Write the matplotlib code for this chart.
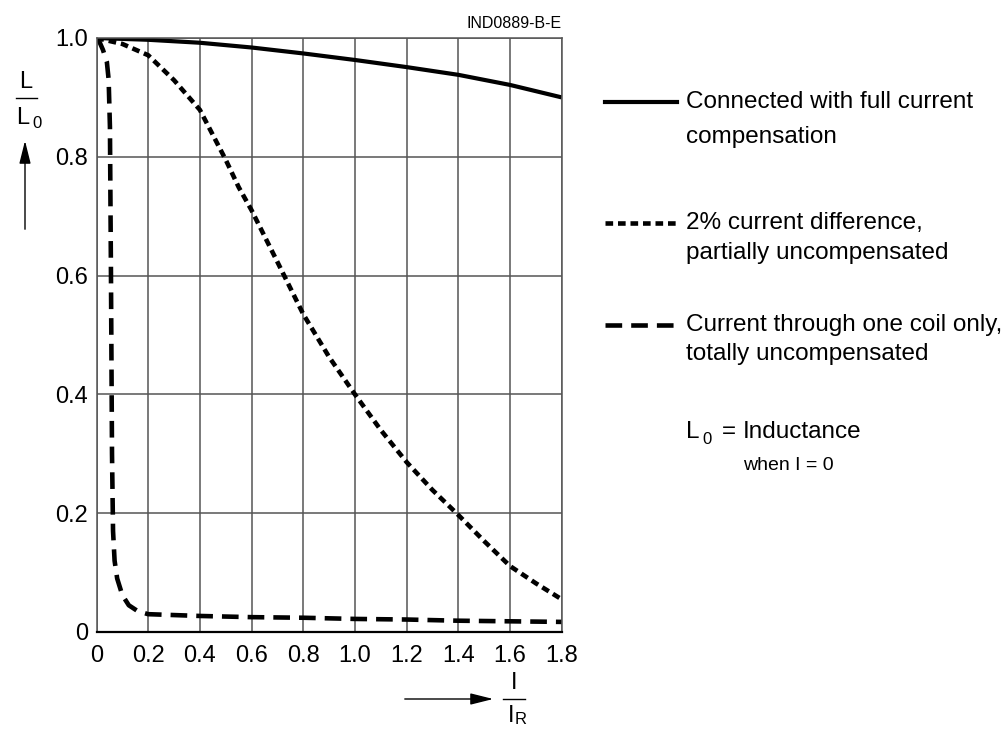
import matplotlib
matplotlib.use("Agg")
import matplotlib.pyplot as plt
from matplotlib.lines import Line2D

plt.rcParams['font.family'] = ['Liberation Sans', 'DejaVu Sans']
plt.rcParams['lines.scale_dashes'] = False

# Connected with full current compensation
x_full = [0, 0.2, 0.4, 0.6, 0.8, 1.0, 1.2, 1.4, 1.6, 1.8]
y_full = [1.0, 0.997, 0.992, 0.984, 0.974, 0.963, 0.951, 0.938, 0.921, 0.90]

# 2% current difference
x_diff = [0, 0.1, 0.2, 0.3, 0.4, 0.5, 0.55, 0.6, 0.7, 0.8, 0.9, 1.0, 1.1, 1.2, 1.3, 1.4, 1.5, 1.6, 1.7, 1.8]
y_diff = [1.0, 0.99, 0.971, 0.929, 0.879, 0.795, 0.749, 0.71, 0.623, 0.535, 0.463, 0.40, 0.34,
          0.286, 0.239, 0.197, 0.153, 0.111, 0.082, 0.055]

# Current through one coil only
x_one = [0, 0.01, 0.025, 0.04, 0.047, 0.052, 0.056, 0.06, 0.064, 0.07, 0.08, 0.1, 0.125, 0.16, 0.2,
         0.4, 0.6, 0.8, 1.0, 1.2, 1.4, 1.6, 1.8]
y_one = [1.0, 0.995, 0.98, 0.96, 0.93, 0.85, 0.6, 0.3, 0.17, 0.12, 0.09, 0.062, 0.045, 0.035, 0.030,
         0.027, 0.025, 0.024, 0.022, 0.021, 0.019, 0.018, 0.017]

x_ticks = [0, 0.2, 0.4, 0.6, 0.8, 1.0, 1.2, 1.4, 1.6, 1.8]
x_labels = ['0', '0.2', '0.4', '0.6', '0.8', '1.0', '1.2', '1.4', '1.6', '1.8']
y_ticks = [0, 0.2, 0.4, 0.6, 0.8, 1.0]
y_labels = ['0', '0.2', '0.4', '0.6', '0.8', '1.0']

W, H = 1008, 729


def fx(px):
    return px / W


def fy(py):
    return 1 - py / H


fig = plt.figure(figsize=(10.08, 7.29), dpi=100)
ax = fig.add_axes([fx(96.5), fy(632), (561.7 - 96.5) / W, (632 - 38) / H])

grid_col = '#555555'
dot_style = (5.5, 3.5)
dash_style = (12, 6.5)
ax.plot(x_full, y_full, color='black', lw=3, solid_capstyle='butt')
ax.plot(x_diff, y_diff, color='black', lw=3.3, dashes=dot_style)
ax.plot(x_one, y_one, color='black', lw=3.3, dashes=dash_style)

ax.set_xlim(0, 1.8)
ax.set_ylim(0, 1.0)
ax.set_xticks(x_ticks)
ax.set_xticklabels(x_labels)
ax.set_yticks(y_ticks)
ax.set_yticklabels(y_labels)
ax.grid(True, color=grid_col, lw=1.1)
ax.tick_params(length=0, labelsize=17)
ax.tick_params(axis='x', pad=9)
ax.tick_params(axis='y', pad=6)
for s in ax.spines.values():
    s.set_color(grid_col)
    s.set_linewidth(1.1)
ax.spines['bottom'].set_color('black')
ax.spines['bottom'].set_linewidth(1.6)
ax.set_axisbelow(True)

# code in the top right
fig.text(fx(562), fy(23), 'IND0889-B-E', fontsize=11.5, ha='right', va='center')

# y axis label: L / L0 with arrow
fig.text(fx(26), fy(82), 'L', fontsize=17, ha='center', va='center')
fig.add_artist(Line2D([fx(16), fx(37)], [fy(98), fy(98)], color='black', lw=1))
fig.text(fx(23), fy(118), 'L', fontsize=17, ha='center', va='center')
fig.text(fx(32), fy(124), '0', fontsize=12, ha='left', va='center')
fig.add_artist(plt.Annotation('', xy=(fx(25), fy(138)), xytext=(fx(25), fy(232)),
                              xycoords='figure fraction',
                              arrowprops=dict(arrowstyle='-|>,head_length=1.4,head_width=0.35',
                                              color='black', lw=1)))

# x axis label: I / IR with arrow
fig.add_artist(plt.Annotation('', xy=(fx(496), fy(699)), xytext=(fx(402), fy(699)),
                              xycoords='figure fraction',
                              arrowprops=dict(arrowstyle='-|>,head_length=1.4,head_width=0.35',
                                              color='black', lw=1)))
fig.text(fx(514), fy(683), 'I', fontsize=17, ha='center', va='center')
fig.add_artist(Line2D([fx(503), fx(525)], [fy(699), fy(699)], color='black', lw=1))
fig.text(fx(511), fy(716), 'I', fontsize=17, ha='center', va='center')
fig.text(fx(515), fy(720), 'R', fontsize=12, ha='left', va='center')

# legend on the right
fs = 17.5
fig.add_artist(Line2D([fx(605), fx(677)], [fy(102), fy(102)], color='black', lw=3))
fig.text(fx(686), fy(102), 'Connected with full current', fontsize=fs, va='center')
fig.text(fx(686), fy(137), 'compensation', fontsize=fs, va='center')

fig.add_artist(Line2D([fx(605), fx(677)], [fy(223), fy(223)], color='black', lw=3.3, dashes=dot_style))
fig.text(fx(686), fy(223), '2% current difference,', fontsize=fs, va='center')
fig.text(fx(686), fy(253), 'partially uncompensated', fontsize=fs, va='center')

fig.add_artist(Line2D([fx(605), fx(677)], [fy(325), fy(325)], color='black', lw=3.3, dashes=dash_style))
fig.text(fx(686), fy(325), 'Current through one coil only,', fontsize=fs, va='center')
fig.text(fx(686), fy(354), 'totally uncompensated', fontsize=fs, va='center')

fig.text(fx(686), fy(432), 'L', fontsize=fs, va='center')
fig.text(fx(702), fy(439), '0', fontsize=12, va='center')
fig.text(fx(722), fy(432), '=', fontsize=fs, va='center')
fig.text(fx(743), fy(432), 'Inductance', fontsize=fs, va='center')
fig.text(fx(743), fy(465), 'when I = 0', fontsize=14, va='center', fontstretch='condensed')

fig.savefig('out.png', dpi=100)
